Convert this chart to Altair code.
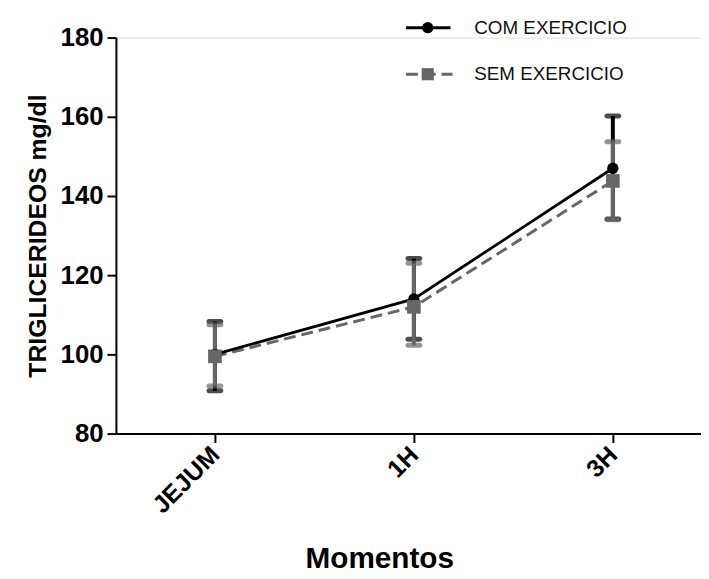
import json
import altair as alt
import pandas as pd

categories = ["JEJUM", "1H", "3H"]
series_names = ["COM EXERCICIO", "SEM EXERCICIO"]
com_mean = [100.0, 114.0, 147.0]
com_low = [90.8, 103.8, 134.2]
com_high = [108.3, 124.2, 160.2]
sem_mean = [99.5, 112.0, 143.8]
sem_low = [92.0, 102.3, 134.0]
sem_high = [107.5, 123.0, 153.7]

rows = []
for s, means, lows, highs in [
    (series_names[0], com_mean, com_low, com_high),
    (series_names[1], sem_mean, sem_low, sem_high),
]:
    for i, c in enumerate(categories):
        rows.append({"serie": s, "cat": c, "idx": i, "mean": means[i], "lo": lows[i], "hi": highs[i]})
df = pd.DataFrame(rows)

FONT = "Liberation Sans"
BLACK = "#000000"
GREY = "#666666"

label_expr = json.dumps(categories) + "[datum.value]"

x_enc = alt.X(
    "idx:Q",
    scale=alt.Scale(domain=[-0.4975, 2.443], nice=False, zero=False),
    axis=alt.Axis(
        values=[0, 1, 2],
        labelExpr=label_expr,
        title="Momentos",
        titleFont=FONT,
        titleFontSize=30,
        titleFontWeight="bold",
        titleX=266,
        titleY=135,
        titleBaseline="alphabetic",
        labelFont=FONT,
        labelFontSize=25,
        labelFontWeight="bold",
        labelAngle=-45,
        labelAlign="right",
        labelBaseline="middle",
        labelPadding=8,
        labelColor=BLACK,
        tickColor=BLACK,
        tickSize=9,
        tickWidth=2,
        domainColor=BLACK,
        domainWidth=2,
        grid=False,
    ),
)
y_scale = alt.Scale(domain=[80, 180], nice=False, zero=False)
y_axis = alt.Axis(
    values=[80, 100, 120, 140, 160, 180],
    title="TRIGLICERIDEOS mg/dl",
    titleFont=FONT,
    titleFontSize=25,
    titleFontWeight="bold",
    titlePadding=10,
    labelFont=FONT,
    labelFontSize=26,
    labelFontWeight="bold",
    labelPadding=4,
    labelColor=BLACK,
    tickColor=BLACK,
    tickSize=9,
    tickWidth=2,
    domainColor=BLACK,
    domainWidth=2,
    grid=False,
)

com = df[df.serie == series_names[0]]
sem = df[df.serie == series_names[1]]


def errbars(data, color):
    base = alt.Chart(data)
    vert = base.mark_rule(color=color, strokeWidth=4).encode(
        x=x_enc, y=alt.Y("lo:Q", scale=y_scale, axis=y_axis), y2="hi:Q"
    )
    cap_lo = base.mark_tick(color=color, thickness=5, size=17, cornerRadius=2.5, orient="horizontal").encode(
        x="idx:Q", y="lo:Q"
    )
    cap_hi = base.mark_tick(color=color, thickness=5, size=17, cornerRadius=2.5, orient="horizontal").encode(
        x="idx:Q", y="hi:Q"
    )
    return vert + cap_lo + cap_hi


com_line = alt.Chart(com).mark_line(color=BLACK, strokeWidth=2.8).encode(
    x="idx:Q", y=alt.Y("mean:Q", scale=y_scale)
)
com_pts = alt.Chart(com).mark_point(shape="circle", filled=True, color=BLACK, size=130, opacity=1).encode(
    x="idx:Q", y="mean:Q"
)
sem_line = alt.Chart(sem).mark_line(color=GREY, strokeWidth=3, strokeDash=[12, 6]).encode(
    x="idx:Q", y=alt.Y("mean:Q", scale=y_scale)
)
sem_pts = alt.Chart(sem).mark_point(shape="square", filled=True, color=GREY, size=190, opacity=1).encode(
    x="idx:Q", y="mean:Q"
)

# legend
leg = pd.DataFrame({"name": series_names})
leg1 = leg.iloc[[0]]
leg2 = leg.iloc[[1]]
l1_line = alt.Chart(leg1).mark_rule(color=BLACK, strokeWidth=3).encode(
    x=alt.value(293), x2=alt.value(338), y=alt.value(-10)
)
l1_pt = alt.Chart(leg1).mark_point(shape="circle", filled=True, color=BLACK, size=130, opacity=1).encode(
    x=alt.value(315), y=alt.value(-10)
)
l1_txt = alt.Chart(leg1).mark_text(font=FONT, fontSize=19, align="left", baseline="middle", color="#111111").encode(
    x=alt.value(362), y=alt.value(-10), text="name:N"
)
l2_line = alt.Chart(leg2).mark_rule(color=GREY, strokeWidth=3, strokeDash=[12, 6]).encode(
    x=alt.value(293), x2=alt.value(340), y=alt.value(37)
)
l2_pt = alt.Chart(leg2).mark_point(shape="square", filled=True, color=GREY, size=150, opacity=1).encode(
    x=alt.value(315), y=alt.value(37)
)
l2_txt = alt.Chart(leg2).mark_text(font=FONT, fontSize=19, align="left", baseline="middle", color="#111111").encode(
    x=alt.value(362), y=alt.value(37), text="name:N"
)

chart = alt.layer(
    errbars(com, BLACK),
    errbars(sem, GREY),
    sem_line,
    com_line,
    com_pts,
    sem_pts,
    l1_line, l1_pt, l1_txt, l2_line, l2_pt, l2_txt,
).properties(
    width=591,
    height=400,
    autosize=alt.AutoSizeParams(type="none"),
    padding={"left": 109, "top": 27, "right": 0, "bottom": 144},
).configure_view(stroke=None).configure(background="white")

chart.save("out.html", embed_options={"renderer": "svg", "actions": False})
